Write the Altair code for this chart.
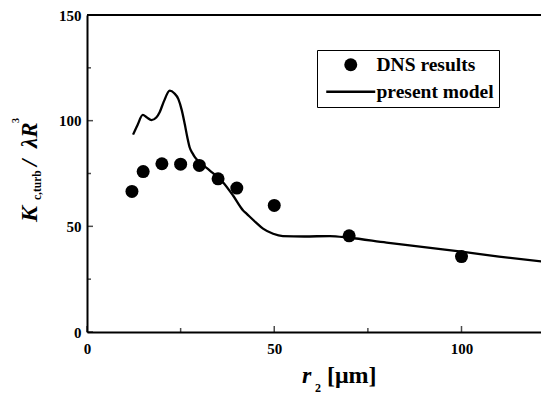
import altair as alt
import pandas as pd

# DNS results (points)
dns_r = [12, 15, 20, 25, 30, 35, 40, 50, 70, 100]
dns_k = [66.5, 75.9, 79.6, 79.4, 78.8, 72.5, 68.1, 59.9, 45.5, 35.7]

# present model (line)
model_r = [12.3, 13.5, 14.9, 16.0, 17.2, 18.5, 19.4, 20.5, 22.1, 23.3, 24.4, 25.3,
           26.1, 26.8, 27.4, 28.2, 28.8, 30.1, 32.8, 36.3, 39.0, 41.7, 42.6, 45.0,
           47.0, 49.7, 52.3, 58.0, 64.8, 70.0, 80.0, 90.0, 100.0, 110.0, 123.1]
model_k = [93.4, 98.0, 102.7, 101.5, 100.3, 101.5, 104.0, 109.0, 114.2, 113.0, 110.2, 105.0,
           98.4, 92.0, 87.4, 84.5, 82.7, 80.3, 76.4, 70.9, 64.6, 57.5, 56.0, 52.0,
           48.9, 46.5, 45.4, 45.2, 45.4, 44.6, 42.3, 40.2, 38.0, 35.7, 33.0]

series_names = ["DNS results", "present model"]
x_major = [0, 50, 100]
x_minor = [25, 75]
y_major = [0, 50, 100, 150]
y_minor = [25, 75, 125]

FONT = "Liberation Serif"
W, H = 454, 317
XMAX = W / 3.745

xs = alt.Scale(domain=[0, XMAX], nice=False, zero=False)
ys = alt.Scale(domain=[0, 150], nice=False)

pts = pd.DataFrame({"r": dns_r, "k": dns_k, "s": series_names[0]})
mdl = pd.DataFrame({"r": model_r, "k": model_k})

xaxis = alt.Axis(values=x_major, title=None, ticks=False, grid=False, labelPadding=9,
                 labelFlush=False, labelFont=FONT, labelFontWeight="bold", labelFontSize=15,
                 labelColor="black", domainColor="black", domainWidth=2, format="d")
yaxis = alt.Axis(values=y_major, title=None, ticks=False, grid=False, labelPadding=6,
                 labelFlush=False, labelFont=FONT, labelFontWeight="bold", labelFontSize=15,
                 labelColor="black", domainColor="black", domainWidth=2, format="d")

line = alt.Chart(mdl).mark_line(color="black", strokeWidth=2.3, interpolate="monotone", clip=True).encode(
    x=alt.X("r:Q", scale=xs, axis=xaxis),
    y=alt.Y("k:Q", scale=ys, axis=yaxis),
)

points = alt.Chart(pts).mark_point(filled=True, color="black", opacity=1, size=169).encode(
    x=alt.X("r:Q", scale=xs),
    y=alt.Y("k:Q", scale=ys),
    shape=alt.Shape("s:N", scale=alt.Scale(domain=series_names,
                                           range=["circle", "M-3.77,-0.18L3.77,-0.18L3.77,0.18L-3.77,0.18Z"]),
                    legend=alt.Legend(orient="none", legendX=230, legendY=35, title=None,
                                      strokeColor="black", fillColor="white",
                                      padding=5, rowPadding=6, labelOffset=16, symbolOffset=19,
                                      labelFont=FONT, labelFontWeight="bold", labelFontSize=19.5,
                                      labelColor="black", symbolFillColor="black",
                                      symbolStrokeColor="black", symbolSize=169)),
)

# top frame line of the plot area
top_frame = alt.Chart(pd.DataFrame({"v": [0]})).mark_rule(color="black", strokeWidth=2).encode(
    x=alt.value(0), x2=alt.value(W), y=alt.value(0))

xt_major = alt.Chart(pd.DataFrame({"v": x_major})).mark_tick(
    orient="vertical", size=6, thickness=1.5, color="black", yOffset=-3).encode(
    x=alt.X("v:Q", scale=xs), y=alt.value(H))
xt_minor = alt.Chart(pd.DataFrame({"v": x_minor})).mark_tick(
    orient="vertical", size=4, thickness=1.5, color="black", yOffset=-2).encode(
    x=alt.X("v:Q", scale=xs), y=alt.value(H))
yt_major = alt.Chart(pd.DataFrame({"v": y_major})).mark_tick(
    orient="horizontal", size=6, thickness=1.5, color="black", xOffset=3).encode(
    y=alt.Y("v:Q", scale=ys), x=alt.value(0))
yt_minor = alt.Chart(pd.DataFrame({"v": y_minor})).mark_tick(
    orient="horizontal", size=4, thickness=1.5, color="black", xOffset=2).encode(
    y=alt.Y("v:Q", scale=ys), x=alt.value(0))


def txt(s, x, y, size, italic=False, angle=0):
    return alt.Chart(pd.DataFrame({"t": [s]})).mark_text(
        font=FONT, fontWeight="bold", fontStyle="italic" if italic else "normal",
        fontSize=size, color="black", align="left", baseline="alphabetic", angle=angle,
    ).encode(x=alt.value(x), y=alt.value(y), text="t:N")


# x axis title: r_2 [μm]
xt1 = txt("r", 215, 368, 24, italic=True)
xt2 = txt("2", 228, 377, 12)
xt3 = txt("[μm]", 240, 368, 24)
# y axis title: K_{c,turb} / λR^3
yt1 = txt("K", -50, 207, 24, italic=True, angle=270)
yt2 = txt("c,turb", -46, 185, 11.5, angle=270)
yt3 = txt("/", -50, 151, 23, italic=True, angle=270)
yt4 = txt("λR", -50, 133, 23, italic=True, angle=270)
yt5 = txt("3", -68, 108, 10, angle=270)

chart = alt.layer(line, points, top_frame, xt_major, xt_minor, yt_major, yt_minor,
                  xt1, xt2, xt3, yt1, yt2, yt3, yt4, yt5).properties(
    width=W, height=H, autosize="none",
    padding={"left": 79, "top": 7, "right": 0, "bottom": 62},
).configure_view(stroke=None).configure_legend(
    strokeWidth=1.3).configure(background="white")

chart.save("out.html", embed_options={"renderer": "svg", "actions": False})
